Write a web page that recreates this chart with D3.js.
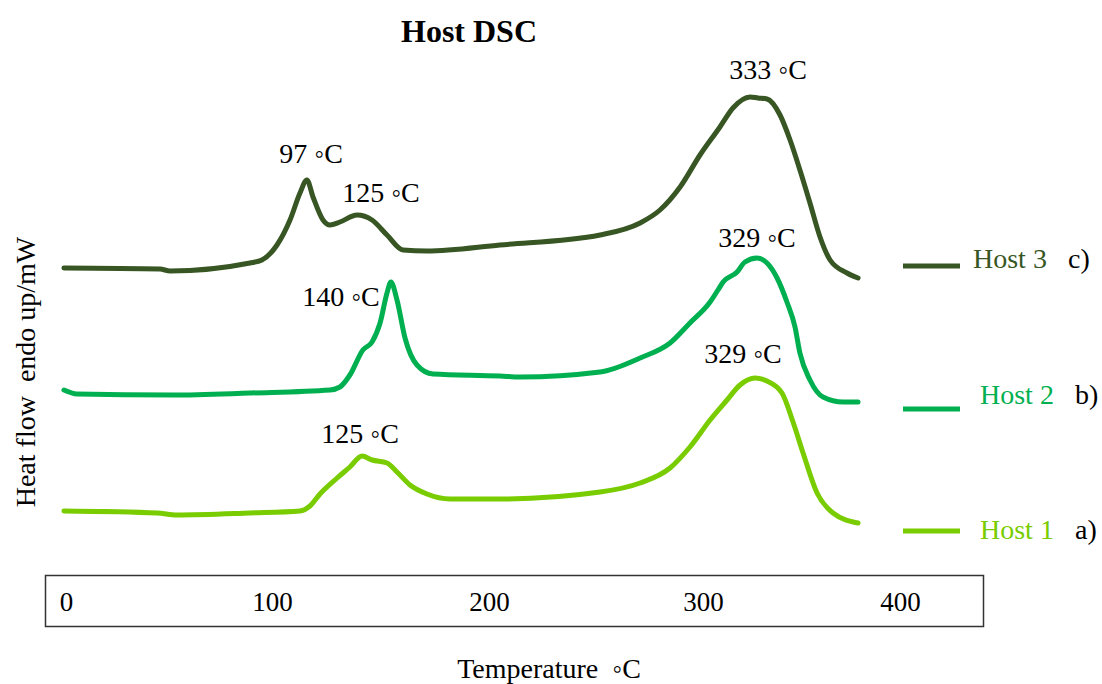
<!DOCTYPE html>
<html>
<head>
<meta charset="utf-8">
<script src="https://cdn.jsdelivr.net/npm/d3@7"></script>
<style>
  html, body { margin: 0; padding: 0; background: #fff; }
  svg { display: block; font-family: "Liberation Serif", "Times New Roman", serif; }
  text { white-space: pre; }
</style>
</head>
<body>
<svg id="chart" width="1102" height="684"></svg>
<script>
// ---- Data (temperature in °C, heat flow in arbitrary units) ----
const tickValues = [0, 100, 200, 300, 400];

const host3Temp = [-1, 45.6, 50.5, 89.3, 95.1, 102.3, 108.3, 112.9, 116.1, 118.9, 123.5, 126.7, 131.3, 139.2, 146.1, 153.0, 160.4, 171.4, 205.1, 251.9, 270.6, 279.9, 289.3, 298.6, 308.6, 315.2, 323.9, 327.9, 332.5, 339.1, 344.2, 349.2, 354.3, 359.4, 364.5, 373.1, 378.7];
const host3Flow = [58.4, 58.2, 57.8, 59.4, 60.0, 63.0, 68.0, 73.4, 76.0, 72.6, 68.0, 67.0, 67.6, 69.0, 68.0, 65.0, 62.0, 61.8, 63.0, 65.0, 67.4, 70.0, 74.6, 81.0, 86.6, 90.4, 92.6, 92.4, 92.2, 89.0, 84.0, 78.0, 71.4, 64.6, 60.0, 57.4, 56.4];

const host2Temp = [-1, 5.3, 51.9, 89.3, 126.7, 131.3, 135.9, 141.9, 146.1, 149.8, 153.0, 154.8, 157.6, 161.3, 166.8, 174.2, 205.1, 214.5, 251.9, 270.6, 284.6, 293.9, 303.6, 307.6, 310.2, 317.3, 321.3, 327.4, 332.5, 337.6, 342.6, 346.7, 349.2, 354.3, 360.9, 371.1, 378.7];
const host2Flow = [34.0, 33.2, 33.0, 33.4, 34.0, 34.6, 37.0, 42.0, 43.6, 47.4, 53.4, 55.6, 52.0, 44.4, 39.0, 37.2, 36.8, 36.6, 37.6, 40.4, 43.4, 47.4, 51.6, 54.0, 55.6, 57.6, 59.6, 60.4, 59.4, 56.4, 51.6, 46.6, 41.4, 36.0, 32.6, 31.6, 31.6];

const host1Temp = [-1, 44.2, 53.9, 89.3, 112.9, 117.5, 122.1, 130.0, 135.9, 141.5, 146.1, 153.0, 157.6, 163.6, 171.4, 182.0, 205.1, 251.9, 270.6, 284.6, 293.9, 303.6, 312.2, 318.8, 326.4, 332.5, 340.1, 345.7, 350.8, 357.9, 366.0, 378.7];
const host1Flow = [9.8, 9.4, 9.0, 9.4, 9.8, 10.8, 13.2, 16.4, 18.6, 20.8, 20.0, 19.4, 17.6, 15.0, 13.2, 12.2, 12.2, 13.6, 15.4, 18.4, 22.6, 28.0, 32.0, 35.0, 36.4, 35.8, 33.4, 27.6, 21.4, 13.4, 9.4, 7.4];

const seriesNames = ["Host 1", "Host 2", "Host 3"];
const seriesTags = ["a)", "b)", "c)"];
const seriesColors = ["#78cc00", "#00b050", "#375623"];

// Peak annotations: label, temperature, heat flow
const peakLabels = ["97 ◦C", "125 ◦C", "333 ◦C", "140 ◦C", "329 ◦C", "329 ◦C", "125 ◦C"];
const peakTemps  = [118.0, 150.2, 333.0, 131.8, 327.4, 320.3, 140.6];
const peakFlows  = [79.4, 71.6, 96.2, 50.8, 62.6, 39.4, 23.4];

// ---- Drawing ----
const svg = d3.select("#chart");

const x = d3.scaleLinear()
  .domain([0, 100, 200, 300, 400])
  .range([66, 272, 489, 703, 900]);
const y = d3.scaleLinear().domain([0, 100]).range([560, 60]);

const series = [
  { temp: host1Temp, flow: host1Flow },
  { temp: host2Temp, flow: host2Flow },
  { temp: host3Temp, flow: host3Flow }
];

const line = d3.line()
  .x(d => x(d[0]))
  .y(d => y(d[1]))
  .curve(d3.curveMonotoneX);

series.forEach((s, i) => {
  const pts = s.temp.map((t, k) => [t, s.flow[k]]);
  svg.append("path")
    .datum(pts)
    .attr("d", line)
    .attr("fill", "none")
    .attr("stroke", seriesColors[i])
    .attr("stroke-width", 5)
    .attr("stroke-linecap", "round")
    .attr("stroke-linejoin", "round");
});

// Peak labels
peakLabels.forEach((lab, i) => {
  svg.append("text")
    .attr("x", x(peakTemps[i]))
    .attr("y", y(peakFlows[i]))
    .attr("text-anchor", "middle")
    .attr("font-size", 28)
    .attr("fill", "#000")
    .text(lab);
});

// Title
svg.append("text")
  .attr("x", 469).attr("y", 42)
  .attr("text-anchor", "middle")
  .attr("font-size", 32)
  .attr("font-weight", "bold")
  .text("Host DSC");

// X axis box
svg.append("rect")
  .attr("x", 45.5).attr("y", 575.5)
  .attr("width", 938).attr("height", 51)
  .attr("fill", "none")
  .attr("stroke", "#333")
  .attr("stroke-width", 1.5);

const xAxis = d3.axisBottom(x).tickValues(tickValues).tickSize(0).tickFormat(d3.format("d"));
const gx = svg.append("g").attr("transform", "translate(0,611)").call(xAxis);
gx.select(".domain").remove();
gx.selectAll("text")
  .attr("y", 0).attr("dy", 0)
  .attr("font-size", 27)
  .attr("font-family", "Liberation Serif, Times New Roman, serif")
  .attr("fill", "#000");

// Axis titles
svg.append("text")
  .attr("x", 549).attr("y", 678)
  .attr("text-anchor", "middle")
  .attr("font-size", 28)
  .text("Temperature  ◦C");

svg.append("text")
  .attr("transform", "translate(35,372) rotate(-90)")
  .attr("text-anchor", "middle")
  .attr("font-size", 28)
  .text("Heat flow  endo up/mW");

// Legend
const legendY = [531, 409, 266];
const legendTextX = [980, 980, 973];
const legendTextY = [539, 404, 268];
const legendTagX = [1075, 1075, 1068];
seriesNames.forEach((name, i) => {
  svg.append("line")
    .attr("x1", 903).attr("x2", 960)
    .attr("y1", legendY[i]).attr("y2", legendY[i])
    .attr("stroke", seriesColors[i])
    .attr("stroke-width", 5);
  svg.append("text")
    .attr("x", legendTextX[i]).attr("y", legendTextY[i])
    .attr("font-size", 28)
    .attr("fill", seriesColors[i])
    .text(name);
  svg.append("text")
    .attr("x", legendTagX[i]).attr("y", legendTextY[i])
    .attr("font-size", 28)
    .attr("fill", "#000")
    .text(seriesTags[i]);
});
</script>
</body>
</html>
